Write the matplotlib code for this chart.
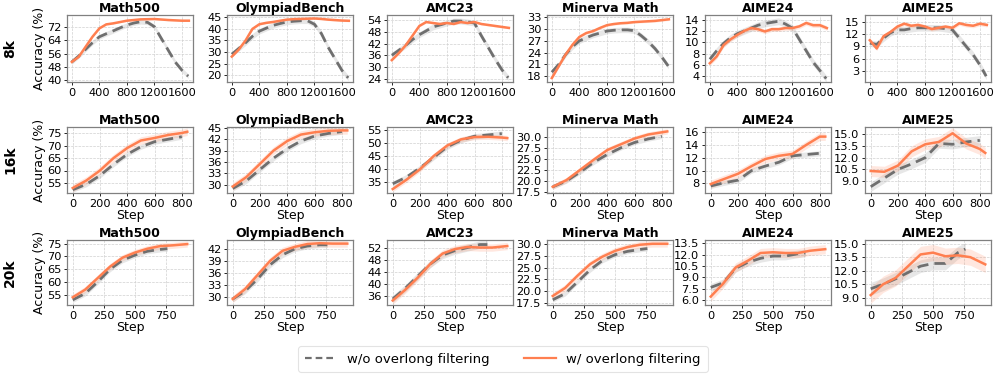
import matplotlib
matplotlib.use("Agg")
import matplotlib.pyplot as plt
import numpy as np

plt.rcParams['font.family'] = ['DejaVu Sans']

# ---------------- data ----------------
rows = ["8k", "16k", "20k"]
benchmarks = ["Math500", "OlympiadBench", "AMC23", "Minerva Math", "AIME24", "AIME25"]

# ---- 8k row ----
x8_wo = [0, 100, 200, 300, 400, 500, 600, 700, 800, 900, 1000, 1100, 1200, 1300, 1400, 1500, 1600, 1690]
x8_w = [0, 100, 200, 300, 400, 500, 600, 700, 800, 900, 1000, 1100, 1200, 1300, 1400, 1500, 1600, 1700]

math500_8k_wo = [51, 54.5, 58.5, 62.5, 66, 67.8, 69.5, 71.3, 73, 74.2, 75, 74.6, 72, 65, 58, 51, 46, 42.5]
math500_8k_w = [51, 54, 60, 66, 71, 73.4, 74, 74.8, 75.6, 76, 76.4, 76.5, 76.6, 76.3, 76, 75.8, 75.6, 75.6]

olymp_8k_wo = [29, 31.5, 34, 36.8, 39, 40.3, 41.5, 42.3, 43, 43.3, 43.5, 43.5, 42, 38, 32, 27, 22, 18.8]
olymp_8k_w = [28, 31, 35, 40, 42, 42.6, 43, 43.5, 44, 44.2, 44.3, 44.4, 44.5, 44.3, 44, 43.8, 43.6, 43.5]

amc_8k_wo = [36, 38.5, 41, 44, 46.5, 48.5, 50.5, 51.5, 52.5, 53.5, 53.5, 53, 52.5, 46, 40, 34, 28.5, 24.5]
amc_8k_w = [33.5, 37, 41, 46, 51, 53, 52.5, 52, 52.5, 52, 53, 52.5, 53, 52, 51.5, 51, 50.5, 50]

minerva_8k_wo = [19, 21, 23.5, 25.5, 27, 27.8, 28.5, 29, 29.5, 29.7, 29.8, 29.8, 29.6, 28.3, 26.8, 25, 22.8, 20.6]
minerva_8k_w = [17.5, 20.5, 23.5, 26, 28, 29, 29.5, 30.3, 31, 31.3, 31.5, 31.6, 31.8, 31.9, 32, 32.1, 32.3, 32.5]

aime24_8k_wo = [7, 8.5, 9.8, 10.8, 11.5, 12, 12.5, 13, 13.3, 13.5, 13.7, 13.2, 12.5, 10.5, 8.5, 6.5, 5, 3.6]
aime24_8k_w = [6.3, 7.5, 9.5, 10.5, 11.3, 12, 12.5, 12.3, 11.9, 12.3, 12.3, 12.5, 12.5, 12.8, 13.4, 13, 13, 12.5]

aime25_8k_wo = [9.8, 9.5, 11, 12.3, 13, 13, 13.3, 13.5, 13.5, 13.5, 13.5, 13.3, 13, 11, 9, 7, 4.5, 1.8]
aime25_8k_w = [10.5, 8.5, 11.5, 12.5, 13.8, 14.5, 14, 14.2, 13.8, 13.2, 13.5, 13.8, 13.5, 14.6, 14.2, 14, 14.5, 14.2]

# ---- 16k row ----
x16_wo = [0, 100, 200, 300, 400, 500, 600, 700, 800]
x16_w = [0, 100, 200, 300, 400, 500, 600, 700, 800, 840]

math500_16k_wo = [52.3, 54.5, 58, 62.5, 66.5, 69.5, 71.5, 72.5, 73.5]
math500_16k_w = [53, 56, 60, 65, 69, 72, 73, 74.2, 75, 75.5]

olymp_16k_wo = [29, 31, 34, 37, 39.5, 41.5, 42.8, 43.5, 44]
olymp_16k_w = [29.5, 32, 35.5, 39, 41.5, 43.2, 43.8, 44.2, 44.3, 44.3]

amc_16k_wo = [34.5, 37, 40.5, 44.5, 48.5, 51, 52.5, 53, 53.5]
amc_16k_w = [32.5, 36, 40, 45, 49, 51.3, 52.2, 52.3, 52, 51.8]

minerva_16k_wo = [18.7, 20, 22, 24.2, 26, 27.5, 28.7, 29.5, 30.1]
minerva_16k_w = [18.7, 20.2, 22.5, 24.8, 27, 28.3, 29.6, 30.5, 31, 31.2]

aime24_16k_wo = [7.6, 8.1, 8.5, 10, 10.7, 11.3, 12.3, 12.5, 12.7]
aime24_16k_w = [7.9, 8.7, 9.5, 10.7, 11.8, 12.3, 12.6, 14, 15.3, 15.3]

aime25_16k_wo = [8.3, 9.4, 10.5, 11.2, 12.0, 13.8, 13.7, 14.0, 14.2]
aime25_16k_w = [10.3, 10.2, 11.0, 12.8, 13.7, 14.0, 15.1, 13.8, 13.1, 12.6]

# ---- 20k row ----
x20_wo = [0, 100, 200, 300, 400, 500, 600, 700, 760]
x20_w = [0, 100, 200, 300, 400, 500, 600, 700, 800, 920]

math500_20k_wo = [53, 55.5, 60, 65, 68.5, 70.5, 72, 72.7, 73]
math500_20k_w = [54, 57, 61.5, 66, 69.5, 71.5, 73, 74, 74.3, 74.8]

olymp_20k_wo = [29.5, 31.5, 34.5, 38, 40.5, 42, 42.7, 43, 43]
olymp_20k_w = [29.5, 32, 35.5, 39, 41.5, 42.5, 43.2, 43.4, 43.3, 43.3]

amc_20k_wo = [35, 38.5, 42.5, 46.5, 49.5, 51, 52, 53, 53]
amc_20k_w = [34.5, 38, 42, 46.5, 50, 51.5, 52.2, 52, 52, 52.5]

minerva_20k_wo = [18.2, 19.5, 22, 24.5, 26.5, 27.7, 28.4, 28.8, 29]
minerva_20k_w = [19, 20.7, 23.3, 25.7, 27.3, 28.5, 29.3, 29.8, 30, 30]

aime24_20k_wo = [7.7, 8.3, 10.2, 11, 11.5, 11.8, 11.8, 12.1, 12.2]
aime24_20k_w = [6.5, 8.2, 10.3, 11.2, 12.2, 12.3, 12.2, 12.2, 12.5, 12.7]

aime25_20k_wo = [10, 10.5, 11.1, 11.8, 12.5, 12.8, 12.8, 14, 14.4]
aime25_20k_w = [9.3, 10.5, 11.2, 12.5, 13.8, 14, 13.6, 13.7, 13.5, 12.7]

# y tick labels per panel
yticks_8k = [[40, 48, 56, 64, 72], [20, 25, 30, 35, 40, 45], [24, 30, 36, 42, 48, 54],
             [18, 21, 24, 27, 30, 33], [4, 6, 8, 10, 12, 14], [3, 6, 9, 12, 15]]
yticks_16k = [[55, 60, 65, 70, 75], [30, 33, 36, 39, 42, 45], [35, 40, 45, 50, 55],
              [17.5, 20.0, 22.5, 25.0, 27.5, 30.0], [8, 10, 12, 14, 16], [9.0, 10.5, 12.0, 13.5, 15.0]]
yticks_20k = [[55, 60, 65, 70, 75], [30, 33, 36, 39, 42], [36, 40, 44, 48, 52],
              [17.5, 20.0, 22.5, 25.0, 27.5, 30.0], [6.0, 7.5, 9.0, 10.5, 12.0, 13.5], [9.0, 10.5, 12.0, 13.5, 15.0]]
ylims_8k = [(39, 79), (17, 46), (22.3, 56.6), (16.5, 33.6), (3, 14.8), (0.4, 16.6)]
ylims_16k = [(51, 77.4), (27.8, 45.2), (31, 56), (17.3, 32.2), (6.5, 16.8), (7.5, 15.9)]
ylims_20k = [(51, 76.4), (28, 44.2), (33, 54.5), (17.1, 30.8), (5.4, 13.9), (8.2, 15.4)]
xticks_rows = [[0, 400, 800, 1200, 1600], [0, 200, 400, 600, 800], [0, 250, 500, 750]]
xlims_rows = [(-70, 1760), (-42, 882), (-46, 966)]

# band half-widths (std) per panel
band_wo_rows = [[1.4, 1.2, 1.5, 0.7, 0.6, 0.8], [1.0, 0.7, 1.0, 0.5, 0.4, 0.6], [1.0, 0.7, 1.2, 0.5, 0.5, 0.7]]
band_w_rows = [[0.4, 0.4, 0.5, 0.3, 0.4, 0.5], [1.5, 1.0, 1.0, 0.6, 0.6, 0.7], [1.2, 0.9, 1.2, 0.7, 0.6, 0.9]]

data_rows = [
    (x8_wo, x8_w, [math500_8k_wo, olymp_8k_wo, amc_8k_wo, minerva_8k_wo, aime24_8k_wo, aime25_8k_wo],
     [math500_8k_w, olymp_8k_w, amc_8k_w, minerva_8k_w, aime24_8k_w, aime25_8k_w], yticks_8k, ylims_8k),
    (x16_wo, x16_w, [math500_16k_wo, olymp_16k_wo, amc_16k_wo, minerva_16k_wo, aime24_16k_wo, aime25_16k_wo],
     [math500_16k_w, olymp_16k_w, amc_16k_w, minerva_16k_w, aime24_16k_w, aime25_16k_w], yticks_16k, ylims_16k),
    (x20_wo, x20_w, [math500_20k_wo, olymp_20k_wo, amc_20k_wo, minerva_20k_wo, aime24_20k_wo, aime25_20k_wo],
     [math500_20k_w, olymp_20k_w, amc_20k_w, minerva_20k_w, aime24_20k_w, aime25_20k_w], yticks_20k, ylims_20k),
]

# ---------------- layout ----------------
W, H = 997, 375
fig = plt.figure(figsize=(W / 100, H / 100), dpi=100)
col_left = [67, 227, 387, 547, 705, 865]
ax_w = 126
row_tb = [(15, 82), (127, 193), (240, 305)]

GRAY = "#6f6f6f"
ORANGE = "#ff7f50"
TICK_FS = 8.2
LABEL_FS = 9

for r, (xwo, xw, ys_wo, ys_w, yt, yl) in enumerate(data_rows):
    top, bot = row_tb[r]
    for c in range(6):
        ax = fig.add_axes([col_left[c] / W, 1 - bot / H, ax_w / W, (bot - top) / H])
        ywo = np.array(ys_wo[c], dtype=float)
        yw = np.array(ys_w[c], dtype=float)
        bwo = band_wo_rows[r][c]
        bw = band_w_rows[r][c]
        ax.fill_between(xwo, ywo - bwo, ywo + bwo, color="#a0a0a0", alpha=0.25, lw=0)
        ax.fill_between(xw, yw - bw, yw + bw, color=ORANGE, alpha=0.18, lw=0)
        ax.plot(xwo, ywo, color=GRAY, lw=2.0, ls=(0, (4, 2.2)), zorder=3)
        ax.plot(xw, yw, color=ORANGE, lw=1.8, zorder=4)
        ax.set_xlim(*xlims_rows[r])
        ax.set_ylim(*yl[c])
        ax.set_xticks(xticks_rows[r])
        ax.set_yticks(yt[c])
        if r >= 1 and c in (3, 5):
            ax.set_yticklabels([f"{v:.1f}" for v in yt[c]])
        elif r == 2 and c == 4:
            ax.set_yticklabels([f"{v:.1f}" for v in yt[c]])
        ax.tick_params(labelsize=TICK_FS, length=2.5, width=0.6, pad=1.5, colors="black")
        ax.grid(True, ls="--", lw=0.5, color="#d0d0d0")
        ax.set_axisbelow(True)
        for s in ax.spines.values():
            s.set_color("#808080")
            s.set_linewidth(0.9)
        ax.set_title(benchmarks[c], fontsize=9, fontweight="bold", pad=2)
        if c == 0:
            ax.set_ylabel("Accuracy (%)", fontsize=LABEL_FS, labelpad=1)
        if r >= 1:
            ax.set_xlabel("Step", fontsize=LABEL_FS, labelpad=0)
    fig.text(10 / W, 1 - ((top + bot) / 2) / H, rows[r], rotation=90, fontsize=10,
             fontweight="bold", ha="center", va="center")

handles = [
    plt.Line2D([], [], color=GRAY, lw=1.6, ls=(0, (3, 1.8))),
    plt.Line2D([], [], color=ORANGE, lw=1.6),
]
leg = fig.legend(handles, ["w/o overlong filtering", "w/ overlong filtering"], loc="center",
                 bbox_to_anchor=(503 / W, 1 - 359 / H), ncol=2, fontsize=9.5, frameon=True,
                 handlelength=2.4, columnspacing=2.6, borderpad=0.5)
leg.get_frame().set_edgecolor("#dddddd")
leg.get_frame().set_linewidth(0.8)

fig.savefig("out.png", dpi=100)
